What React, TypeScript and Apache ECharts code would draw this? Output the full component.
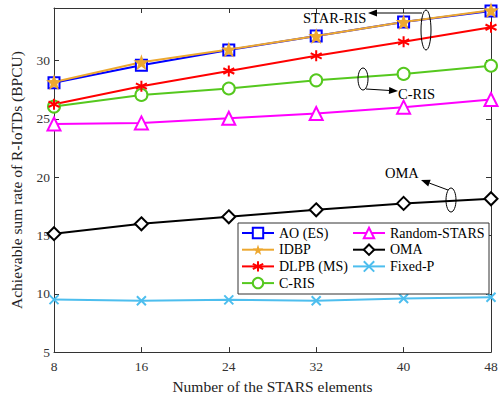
import React, { useEffect, useRef } from "react";
import * as echarts from "echarts";

const elements = [8, 16, 24, 32, 40, 48];
const aoES = [28.1, 29.6, 30.9, 32.1, 33.3, 34.25];
const idbp = [28.15, 29.85, 30.95, 32.1, 33.3, 34.3];
const dlpbMS = [26.25, 27.8, 29.1, 30.4, 31.6, 32.85];
const cRIS = [26.05, 27.05, 27.6, 28.3, 28.85, 29.55];
const randomSTARS = [24.55, 24.65, 25.05, 25.45, 26.0, 26.65];
const oma = [15.15, 16.0, 16.6, 17.2, 17.75, 18.15];
const fixedP = [9.5, 9.4, 9.48, 9.4, 9.6, 9.7];
const yTicks = [5, 10, 15, 20, 25, 30];

const FONT = "Liberation Serif";
const ASTERISK = "path://M0,-10L0,10M-8.7,-5L8.7,5M-8.7,5L8.7,-5";
const CROSS = "path://M-7,-7L7,7M-7,7L7,-7";
const STAR = "path://M0,-10L2.35,-3.24L9.51,-3.09L3.8,1.24L5.88,8.09L0,4L-5.88,8.09L-3.8,1.24L-9.51,-3.09L-2.35,-3.24Z";

function pairs(v: number[]) {
  return elements.map((x, i) => [x, v[i]]);
}

function arrow(x1: number, y1: number, x2: number, y2: number) {
  const ang = Math.atan2(y2 - y1, x2 - x1);
  const L = 9, W = 3.5;
  const bx = x2 - L * Math.cos(ang), by = y2 - L * Math.sin(ang);
  const px = -Math.sin(ang) * W, py = Math.cos(ang) * W;
  return [
    { type: "line", shape: { x1, y1, x2: bx, y2: by }, style: { stroke: "#000", lineWidth: 1 }, z: 10 },
    {
      type: "polygon",
      shape: { points: [[x2, y2], [bx + px, by + py], [bx - px, by - py]] },
      style: { fill: "#000" },
      z: 10,
    },
  ];
}

export default function App() {
  const ref = useRef<HTMLDivElement>(null);
  useEffect(() => {
    const chart = echarts.init(ref.current!, null, { renderer: "svg" });
    const mk = (name: string, data: number[], color: string, symbol: string, size: number, extra: any = {}) => ({
      name,
      type: "line",
      data: pairs(data),
      symbol,
      symbolSize: size,
      lineStyle: { color, width: 2 },
      itemStyle: { color, borderColor: color, borderWidth: 1.6 },
      ...extra,
    });
    const legendText = { fontFamily: FONT, fontSize: 14, color: "#000" };
    const legendCommon = {
      orient: "vertical",
      top: 226,
      padding: 0,
      itemWidth: 32,
      itemHeight: 13,
      itemGap: 2.7,
      textStyle: legendText,
      z: 20,
    };
    chart.setOption({
      animation: false,
      textStyle: { fontFamily: FONT },
      grid: { left: 52, right: 10, top: 8, bottom: 42 },
      xAxis: [
        {
          type: "value",
          min: 8,
          max: 48,
          interval: 8,
          name: "Number of the STARS elements",
          nameLocation: "middle",
          nameGap: 21,
          nameTextStyle: { fontFamily: FONT, fontSize: 15.5, color: "#222" },
          axisLine: { lineStyle: { color: "#333" } },
          axisTick: { inside: true, length: 5, lineStyle: { color: "#333" } },
          axisLabel: { fontFamily: FONT, fontSize: 13.5, color: "#333", margin: 7 },
          splitLine: { show: false },
        },
        {
          type: "value",
          min: 8,
          max: 48,
          interval: 8,
          position: "top",
          axisLine: { show: true, lineStyle: { color: "#333" } },
          axisTick: { inside: true, length: 5, lineStyle: { color: "#333" } },
          axisLabel: { show: false },
          splitLine: { show: false },
        },
      ],
      yAxis: [
        {
          type: "value",
          min: 5,
          max: 34.5,
          interval: 5,
          name: "Achievable sum rate of R-IoTDs (BPCU)",
          nameLocation: "middle",
          nameGap: 30,
          nameTextStyle: { fontFamily: FONT, fontSize: 15.5, color: "#222" },
          axisLine: { show: true, lineStyle: { color: "#333" } },
          axisTick: { inside: true, length: 5, lineStyle: { color: "#333" } },
          axisLabel: {
            fontFamily: FONT,
            fontSize: 13.5,
            color: "#333",
            margin: 4,
            formatter: (v: number) => (yTicks.includes(v) ? String(v) : ""),
          },
          splitLine: { show: false },
        },
        {
          type: "value",
          min: 5,
          max: 34.5,
          interval: 5,
          position: "right",
          axisLine: { show: true, lineStyle: { color: "#333" } },
          axisTick: { inside: true, length: 5, lineStyle: { color: "#333" } },
          axisLabel: { show: false },
          splitLine: { show: false },
        },
      ],
      legend: [
        { ...legendCommon, data: ["AO (ES)", "IDBP", "DLPB (MS)", "C-RIS"], left: 241 },
        { ...legendCommon, data: ["Random-STARS", "OMA", "Fixed-P"], left: 352 },
      ],
      graphic: [
        {
          type: "rect",
          shape: { x: 238, y: 223, width: 251, height: 71 },
          style: { fill: "#fff", stroke: "#333", lineWidth: 1 },
          z: 5,
        },
        { type: "text", left: 303, top: 10, style: { text: "STAR-RIS", font: `14.5px ${FONT}`, fill: "#000" }, z: 10 },
        { type: "ellipse", shape: { cx: 426, cy: 30, rx: 5, ry: 20 }, style: { fill: "none", stroke: "#000", lineWidth: 1 }, z: 10 },
        ...arrow(422, 13, 368, 13),
        { type: "text", left: 398, top: 86, style: { text: "C-RIS", font: `14.5px ${FONT}`, fill: "#000" }, z: 10 },
        { type: "ellipse", shape: { cx: 363, cy: 79, rx: 5, ry: 11 }, style: { fill: "none", stroke: "#000", lineWidth: 1 }, z: 10 },
        ...arrow(366, 89, 398, 91),
        { type: "text", left: 385, top: 165, style: { text: "OMA", font: `14.5px ${FONT}`, fill: "#000" }, z: 10 },
        { type: "ellipse", shape: { cx: 451, cy: 200, rx: 5, ry: 12 }, style: { fill: "none", stroke: "#000", lineWidth: 1 }, z: 10 },
        ...arrow(448, 190, 421, 180),
      ],
      series: [
        mk("Fixed-P", fixedP, "#4DBEEE", CROSS, 9, { itemStyle: { color: "#4DBEEE", borderColor: "#4DBEEE", borderWidth: 2 } }),
        mk("OMA", oma, "#000000", "emptyDiamond", 13),
        mk("Random-STARS", randomSTARS, "#FF00FF", "emptyTriangle", 13),
        mk("C-RIS", cRIS, "#55C81E", "emptyCircle", 12),
        mk("DLPB (MS)", dlpbMS, "#FF0000", ASTERISK, 11, { itemStyle: { color: "#FF0000", borderColor: "#FF0000", borderWidth: 2 } }),
        mk("AO (ES)", aoES, "#0000FF", "emptyRect", 11),
        mk("IDBP", idbp, "#EDA830", STAR, 16, { itemStyle: { color: "#EDA830", borderColor: "#EDA830", borderWidth: 0 } }),
      ],
    });
    return () => chart.dispose();
  }, []);
  return <div ref={ref} style={{ width: 501, height: 399, position: "absolute", left: 0, top: 0 }} />;
}
